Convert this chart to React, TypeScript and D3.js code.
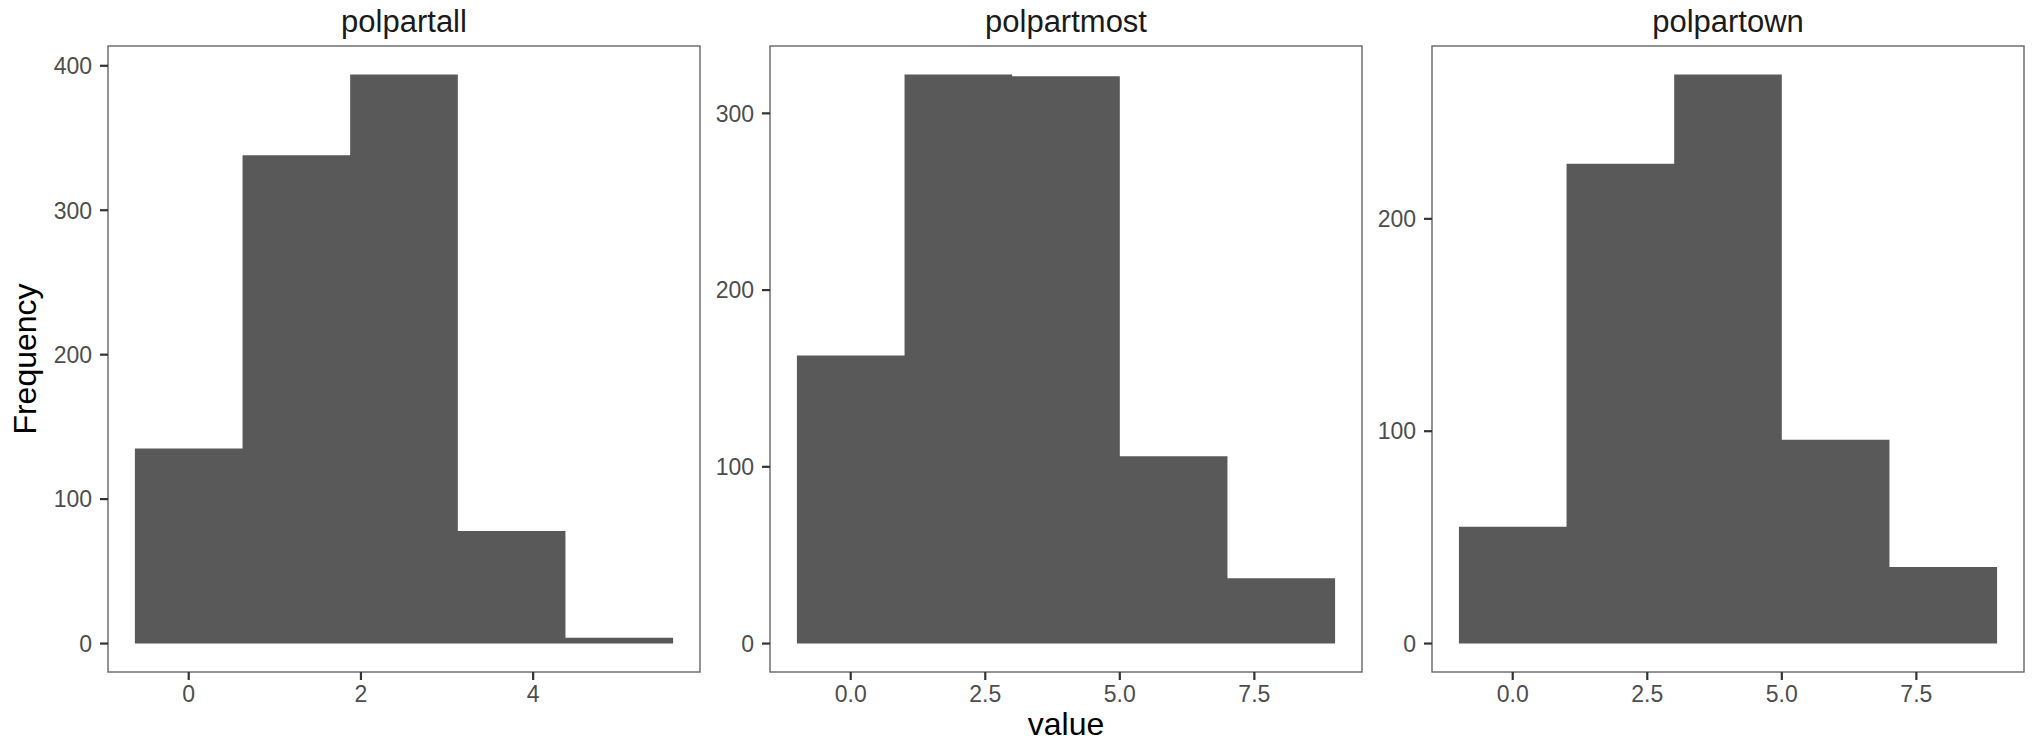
import * as d3 from "d3";

const W = 2033;
const H = 746;

// panel frames in page pixels
const PANELS_X = [108, 770, 1432];
const PANEL_W = 592;
const PANEL_TOP = 46;
const PANEL_BOTTOM = 672;

const FACETS = ["polpartall", "polpartmost", "polpartown"];

// histogram bins (centre of each bin + count)
const allCenters = [0, 1.25, 2.5, 3.75, 5];
const allCounts = [135, 338, 394, 78, 4];
const allWidth = 1.25;

const mostCenters = [0, 2, 4, 6, 8];
const mostCounts = [163, 322, 321, 106, 37];
const mostWidth = 2;

const ownCenters = [0, 2, 4, 6, 8];
const ownCounts = [55, 226, 268, 96, 36];
const ownWidth = 2;

const allXTicks = [0, 2, 4];
const mostXTicks = [0, 2.5, 5, 7.5];
const ownXTicks = [0, 2.5, 5, 7.5];

const allYTicks = [0, 100, 200, 300, 400];
const mostYTicks = [0, 100, 200, 300];
const ownYTicks = [0, 100, 200];

const BAR = "#595959";
const FONT = "'Liberation Sans', Arial, sans-serif";

type Facet = {
  name: string;
  centers: number[];
  counts: number[];
  width: number;
  xTicks: number[];
  yTicks: number[];
  fmt: (n: number) => string;
};

const facets: Facet[] = [
  { name: FACETS[0], centers: allCenters, counts: allCounts, width: allWidth, xTicks: allXTicks, yTicks: allYTicks, fmt: d3.format("d") },
  { name: FACETS[1], centers: mostCenters, counts: mostCounts, width: mostWidth, xTicks: mostXTicks, yTicks: mostYTicks, fmt: d3.format(".1f") },
  { name: FACETS[2], centers: ownCenters, counts: ownCounts, width: ownWidth, xTicks: ownXTicks, yTicks: ownYTicks, fmt: d3.format(".1f") },
];

function Panel({ f, left }: { f: Facet; left: number }) {
  const lo = d3.min(f.centers)! - f.width / 2;
  const hi = d3.max(f.centers)! + f.width / 2;
  const padX = (hi - lo) * 0.05;
  const x = d3.scaleLinear().domain([lo - padX, hi + padX]).range([left, left + PANEL_W]);
  const yMax = d3.max(f.counts)!;
  const y = d3
    .scaleLinear()
    .domain([-yMax * 0.05, yMax * 1.05])
    .range([PANEL_BOTTOM, PANEL_TOP]);

  // bars as one stepped shape so neighbouring bins have no anti-alias seam
  const steps: [number, number][] = f.centers.map((c, i) => [c - f.width / 2, f.counts[i]]);
  steps.push([hi, f.counts[f.counts.length - 1]]);
  const area = d3
    .area<[number, number]>()
    .x((d) => x(d[0]))
    .y0(y(0))
    .y1((d) => y(d[1]))
    .curve(d3.curveStepAfter);

  return (
    <g>
      <text
        x={left + PANEL_W / 2}
        y={32}
        fontSize={31}
        textAnchor="middle"
        fill="#1a1a1a"
      >
        {f.name}
      </text>
      <path d={area(steps) ?? ""} fill={BAR} />
      <rect
        x={left}
        y={PANEL_TOP}
        width={PANEL_W}
        height={PANEL_BOTTOM - PANEL_TOP}
        fill="none"
        stroke="#666"
        strokeWidth={1.4}
      />
      {f.yTicks.map((t) => (
        <g key={`y${t}`}>
          <line x1={left - 8} x2={left} y1={y(t)} y2={y(t)} stroke="#333" strokeWidth={2.2} />
          <text
            x={left - 16}
            y={y(t)}
            dy="0.36em"
            fontSize={23}
            textAnchor="end"
            fill="#4d4d4d"
          >
            {t}
          </text>
        </g>
      ))}
      {f.xTicks.map((t) => (
        <g key={`x${t}`}>
          <line x1={x(t)} x2={x(t)} y1={PANEL_BOTTOM} y2={PANEL_BOTTOM + 8} stroke="#333" strokeWidth={2.2} />
          <text x={x(t)} y={702} fontSize={23} textAnchor="middle" fill="#4d4d4d">
            {f.fmt(t)}
          </text>
        </g>
      ))}
    </g>
  );
}

export default function App() {
  return (
    <svg
      width={W}
      height={H}
      style={{ position: "absolute", left: 0, top: 0, background: "#fff" }}
      fontFamily={FONT}
    >
      <rect width={W} height={H} fill="#fff" />
      {facets.map((f, i) => (
        <Panel key={f.name} f={f} left={PANELS_X[i]} />
      ))}
      {/* axis titles */}
      <text
        x={PANELS_X[1] + PANEL_W / 2}
        y={735}
        fontSize={32}
        textAnchor="middle"
        fill="#000"
      >
        value
      </text>
      <text
        transform={`translate(36,${(PANEL_TOP + PANEL_BOTTOM) / 2}) rotate(-90)`}
        fontSize={32}
        textAnchor="middle"
        fill="#000"
      >
        Frequency
      </text>
    </svg>
  );
}
